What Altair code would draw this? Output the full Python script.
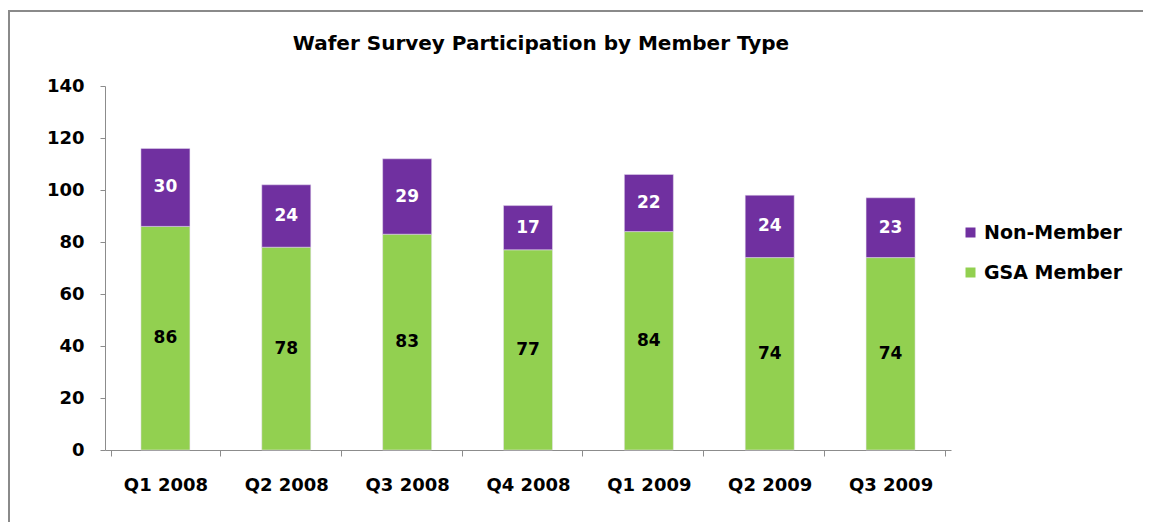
import altair as alt
import pandas as pd

quarters = ["Q1 2008", "Q2 2008", "Q3 2008", "Q4 2008", "Q1 2009", "Q2 2009", "Q3 2009"]
gsa_member = [86, 78, 83, 77, 84, 74, 74]
non_member = [30, 24, 29, 17, 22, 24, 23]
series_names = ["Non-Member", "GSA Member"]
series_colors = ["#7030A0", "#92D050"]
y_ticks = [0, 20, 40, 60, 80, 100, 120, 140]
chart_title = "Wafer Survey Participation by Member Type"

rows = []
for q, g, n in zip(quarters, gsa_member, non_member):
    rows.append({"quarter": q, "series": "GSA Member", "value": g, "ord": 0})
    rows.append({"quarter": q, "series": "Non-Member", "value": n, "ord": 1})
df = pd.DataFrame(rows)

FONT = "DejaVu Sans"

base = alt.Chart(df)

bars = base.mark_bar(size=49, stroke="#e8e0f0", strokeWidth=0.5).encode(
    x=alt.X("quarter:N", sort=quarters, title=None,
            axis=alt.Axis(labelAngle=0, labelFont=FONT, labelFontSize=18, labelFontWeight="bold",
                          labelColor="#000000", labelPadding=20, tickSize=6, tickBand="extent",
                          domainColor="#8c8c8c", tickColor="#8c8c8c", labelBaseline="top")),
    y=alt.Y("value:Q", stack="zero", title=None,
            scale=alt.Scale(domain=[0, 140], nice=False),
            axis=alt.Axis(values=y_ticks, grid=False, labelFont=FONT, labelFontSize=18,
                          labelFontWeight="bold", labelColor="#000000", labelPadding=16,
                          tickSize=5, domainColor="#8c8c8c", tickColor="#8c8c8c")),
    color=alt.Color("series:N", scale=alt.Scale(domain=series_names, range=series_colors),
                    legend=alt.Legend(title=None, orient="none", legendX=856, legendY=137,
                                      symbolType="square", symbolSize=100, symbolStrokeWidth=0,
                                      labelFont=FONT, labelFontSize=19, labelFontWeight="bold",
                                      labelColor="#000000", rowPadding=20, labelOffset=4,
                                      padding=0)),
    order=alt.Order("ord:Q"),
)

labels = base.transform_stack(
    stack="value", groupby=["quarter"], as_=["y0", "y1"], sort=[alt.SortField("ord")]
).transform_calculate(
    mid="(datum.y0 + datum.y1) / 2"
).mark_text(font=FONT, fontSize=17, fontWeight="bold", baseline="middle").encode(
    x=alt.X("quarter:N", sort=quarters),
    y=alt.Y("mid:Q"),
    text=alt.Text("value:Q"),
    color=alt.condition(alt.datum.series == "Non-Member", alt.value("white"), alt.value("black")),
)

one = pd.DataFrame({"a": [0]})
title_mark = alt.Chart(one).mark_text(font=FONT, fontSize=20, fontWeight="bold", color="#000000",
                                      align="center", baseline="alphabetic").encode(
    x=alt.value(436), y=alt.value(-36), text=alt.value(chart_title))

frame_left = alt.Chart(one).mark_rule(color="#8a8a8a", strokeWidth=2).encode(
    x=alt.value(-96), x2=alt.value(-96), y=alt.value(-76), y2=alt.value(436))
frame_top = alt.Chart(one).mark_rule(color="#8a8a8a", strokeWidth=2).encode(
    x=alt.value(-97), x2=alt.value(1038), y=alt.value(-75))

chart = alt.layer(bars, labels, title_mark, frame_left, frame_top).properties(
    width=846, height=364,
    autosize=alt.AutoSizeParams(type="none"),
    padding={"left": 97, "top": 78, "right": 192, "bottom": 72},
).configure_view(stroke=None)

chart.save("out.html", embed_options={"renderer": "svg", "actions": False})
